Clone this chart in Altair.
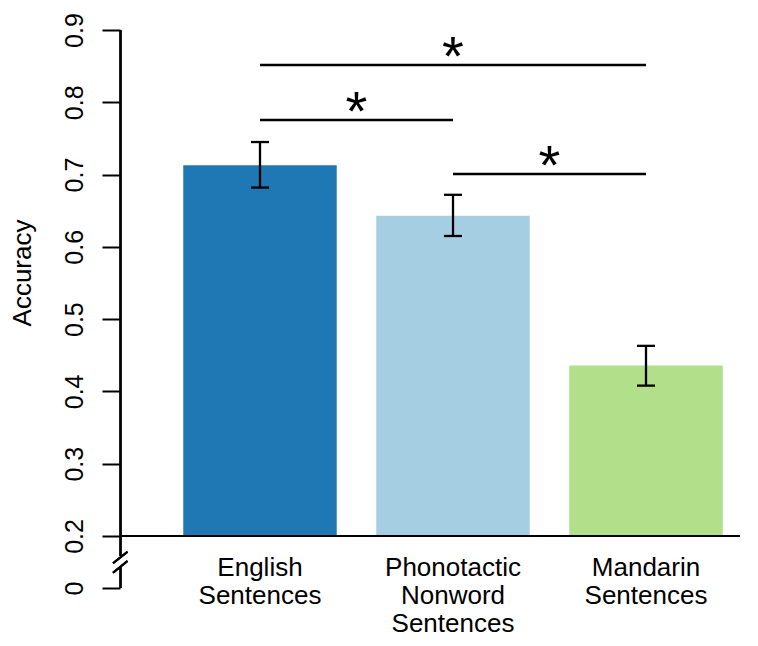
import altair as alt
import pandas as pd

# ---------------- data ----------------
categories = ["English Sentences", "Phonotactic Nonword Sentences", "Mandarin Sentences"]
category_labels = ["English\nSentences", "Phonotactic\nNonword\nSentences", "Mandarin\nSentences"]
accuracy = [0.713, 0.643, 0.436]
err_low = [0.682, 0.615, 0.408]
err_high = [0.745, 0.672, 0.463]
bar_colors = ["#1f78b4", "#a6cee3", "#b2df8a"]

sig_start = [0, 0, 1]
sig_end = [2, 1, 2]
sig_level = [0.8515, 0.7755, 0.7008]
sig_text = ["*", "*", "*"]

y_tick_values = [0.2, 0.3, 0.4, 0.5, 0.6, 0.7, 0.8, 0.9]
y_break_value = 0.128  # position where the "0" tick is drawn (axis break)
bar_base = 0.2

# ---------------- layout ----------------
W, H = 620, 558
PAD_L, PAD_T, PAD_R, PAD_B = 112, 22, 10, 50
FONT = "Liberation Sans"

bars_df = pd.DataFrame({
    "idx": list(range(len(categories))),
    "category": categories,
    "label": category_labels,
    "accuracy": accuracy,
    "lo": err_low,
    "hi": err_high,
})
sig_df = pd.DataFrame({
    "start": sig_start,
    "end": sig_end,
    "level": sig_level,
    "text": sig_text,
})

xscale = alt.Scale(domain=[-0.7254, 2.487], nice=False, zero=False, padding=0)
yscale = alt.Scale(domain=[y_break_value, 0.9], nice=False, zero=False, padding=0)
yaxis = alt.Axis(
    values=[y_break_value] + y_tick_values,
    labelExpr="datum.value < 0.15 ? '0' : format(datum.value, '.1f')",
    domain=False, grid=False, ticks=True, tickSize=18, tickWidth=2,
    tickColor="black", labelAngle=270, labelAlign="center",
    labelBaseline="alphabetic", labelPadding=20, labelFontSize=25,
    labelFont=FONT, labelColor="black", title=None,
)

X = lambda f: alt.X(f, type="quantitative", scale=xscale, axis=None)
Y = lambda f: alt.Y(f, type="quantitative", scale=yscale, axis=yaxis)

base = alt.Chart(bars_df)

bars = base.mark_bar(size=153.5).encode(
    x=X("idx"),
    y=Y("accuracy"),
    y2=alt.datum(bar_base),
    color=alt.Color("category:N", scale=alt.Scale(domain=categories, range=bar_colors), legend=None),
)

err = base.mark_rule(color="black", strokeWidth=2.3).encode(
    x=X("idx"), y=Y("lo"), y2="hi"
)
cap_hi = base.mark_tick(orient="horizontal", size=18, thickness=2.3, color="black", opacity=1).encode(
    x=X("idx"), y=Y("hi")
)
cap_lo = base.mark_tick(orient="horizontal", size=18, thickness=2.3, color="black", opacity=1).encode(
    x=X("idx"), y=Y("lo")
)

sig_lines = alt.Chart(sig_df).mark_rule(color="black", strokeWidth=2.5).encode(
    x=X("start"), x2="end", y=Y("level")
)
stars = alt.Chart(sig_df).transform_calculate(mid="(datum.start + datum.end) / 2").mark_text(
    font=FONT, fontSize=56, baseline="alphabetic", align="center", dy=10, color="black"
).encode(x=X("mid"), y=Y("level"), text="text:N")

# axis lines (with break on y axis)
x_axis_line = alt.Chart(bars_df).mark_rule(color="black", strokeWidth=2).encode(
    x=alt.value(0), x2=alt.value(W), y=alt.datum(bar_base)
)
y_axis_upper = alt.Chart(bars_df).mark_rule(color="black", strokeWidth=2).encode(
    x=alt.value(0.5), y=alt.value(0), y2=alt.value(526)
)
y_axis_lower = alt.Chart(bars_df).mark_rule(color="black", strokeWidth=2).encode(
    x=alt.value(0.5), y=alt.value(537), y2=alt.value(H)
)
slash1 = alt.Chart(bars_df).mark_rule(color="black", strokeWidth=2).encode(
    x=alt.value(-7), x2=alt.value(7.5), y=alt.value(533.3), y2=alt.value(521.7)
)
slash2 = alt.Chart(bars_df).mark_rule(color="black", strokeWidth=2).encode(
    x=alt.value(-7), x2=alt.value(7.5), y=alt.value(542.7), y2=alt.value(531)
)

x_labels = base.mark_text(
    font=FONT, fontSize=26, baseline="alphabetic", align="center",
    lineBreak="\n", lineHeight=28, color="black"
).encode(x=X("idx"), y=alt.value(546), text="label:N")

y_title = alt.Chart(pd.DataFrame({"t": ["Accuracy"]})).mark_text(
    font=FONT, fontSize=26, angle=270, align="center", baseline="alphabetic", color="black"
).encode(x=alt.value(-89), y=alt.value(243), text="t:N")

chart = alt.layer(
    bars, err, cap_hi, cap_lo, sig_lines, stars,
    x_axis_line, y_axis_upper, y_axis_lower, slash1, slash2, x_labels, y_title,
).properties(
    width=W, height=H,
    autosize=alt.AutoSizeParams(type="none"),
    padding={"left": PAD_L, "top": PAD_T, "right": PAD_R, "bottom": PAD_B},
).configure_view(stroke=None)

chart.save("out.html", embed_options={"renderer": "svg", "actions": False})
